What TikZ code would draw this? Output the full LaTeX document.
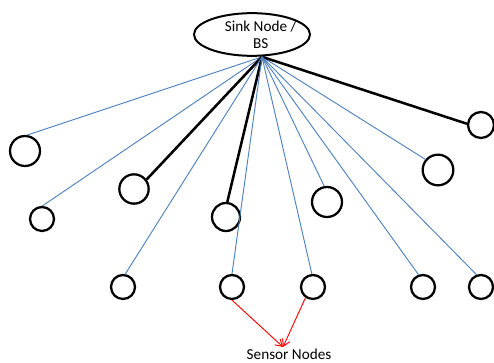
\documentclass[tikz,border=0pt]{standalone}
\usepackage{fontspec}
\setmainfont{Carlito}
\usepackage{tikz}
\usetikzlibrary{arrows.meta,shapes.geometric}
\definecolor{linkblue}{RGB}{79,129,189}

\begin{document}
\begin{tikzpicture}[
  x=0.75pt,y=-0.75pt,
  every node/.style={font=\fontsize{11.4}{12.5}\selectfont},
  sink/.style={draw,ellipse,line width=1.5pt,minimum width=87pt,minimum height=32pt,inner sep=0pt},
  sensor/.style={draw,circle,line width=1.7pt,minimum size=#1,inner sep=0pt},
  sensor/.default=18pt,
  link/.style={linkblue,line width=0.7pt},
  heavy/.style={black,line width=1.9pt},
  pick/.style={-{Straight Barb[length=5pt,width=6pt]},red,line width=0.7pt}
]
  \useasboundingbox (0,0) rectangle (494,363);

  \node[sink,label={[align=center,xshift=6.5pt]center:Sink Node /\\BS}] (bs) at (252,34.5) {};
  \coordinate (hub) at ([xshift=7.5pt]bs.south);

  \node[sensor=22.5pt] (c1) at (25,151) {};
  \node[sensor] (c2) at (42,219) {};
  \node[sensor=22pt] (c3) at (134,189) {};
  \node[sensor=21pt] (c4) at (226,217) {};
  \node[sensor=22.5pt] (c5) at (327,202) {};
  \node[sensor=23pt] (c6) at (438,170) {};
  \node[sensor=19.5pt] (c7) at (481,125) {};
  \node[sensor] (c8) at (123,287) {};
  \node[sensor] (c9) at (232,287) {};
  \node[sensor] (c10) at (313,287) {};
  \node[sensor] (c11) at (423,287) {};
  \node[sensor] (c12) at (481,287) {};

  \draw[link] (hub) -- (c1.82);
  \draw[link] (hub) -- (c2.88);
  \draw[heavy] (hub) -- (c3.37);
  \draw[heavy] (hub) -- (c4.85);
  \draw[link] (hub) -- (c5.100);
  \draw[link] (hub) -- (c6.140);
  \draw[heavy] (hub) -- (c7.175);
  \draw[link] (hub) -- (c8.80);
  \draw[link] (hub) -- (c9.90);
  \draw[link] (hub) -- (c10.95);
  \draw[link] (hub) -- (c11.110);
  \draw[link] (hub) -- (c12.110);

  \coordinate (tip) at (283,347);
  \draw[pick] (c9.south) -- (tip);
  \draw[pick] (c10.-125) -- (tip);
  \node[anchor=base,inner sep=0pt] (nodes) at (289,360) {Sensor Nodes};
\end{tikzpicture}
\end{document}
